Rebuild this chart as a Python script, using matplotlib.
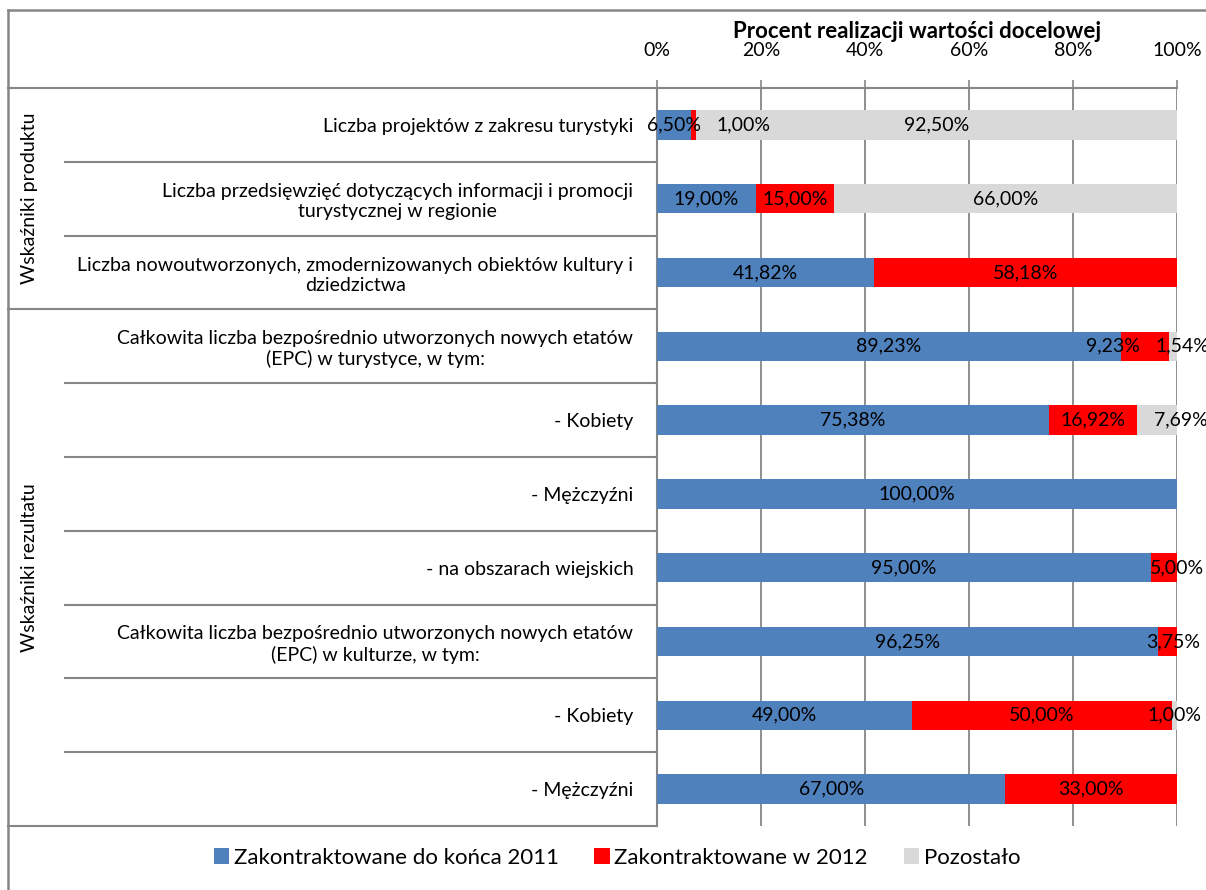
"""Procent realizacji wartości docelowej - stacked horizontal bars"""
import matplotlib.pyplot as plt
from matplotlib.lines import Line2D

plt.rcParams['font.family'] = ['Lato', 'DejaVu Sans']

categories = [
    'Liczba projektów z zakresu turystyki',
    'Liczba przedsięwzięć dotyczących informacji i promocji\nturystycznej w regionie',
    'Liczba nowoutworzonych, zmodernizowanych obiektów kultury i\ndziedzictwa',
    'Całkowita liczba bezpośrednio utworzonych nowych etatów\n(EPC) w turystyce, w tym:',
    '- Kobiety',
    '- Mężczyźni',
    '- na obszarach wiejskich',
    'Całkowita liczba bezpośrednio utworzonych nowych etatów\n(EPC) w kulturze, w tym:',
    '- Kobiety',
    '- Mężczyźni',
]
groups = ['Wskaźniki produktu', 'Wskaźniki rezultatu']
group_sizes = [3, 7]

do_2011 = [6.50, 19.00, 41.82, 89.23, 75.38, 100.00, 95.00, 96.25, 49.00, 67.00]
w_2012 = [1.00, 15.00, 58.18, 9.23, 16.92, 0.00, 5.00, 3.75, 50.00, 33.00]
pozostalo = [92.50, 66.00, 0.00, 1.54, 7.69, 0.00, 0.00, 0.00, 1.00, 0.00]

series_names = ['Zakontraktowane do końca 2011', 'Zakontraktowane w 2012', 'Pozostało']
colors = ['#4F81BD', '#FF0000', '#D9D9D9']

# hand-moved data labels in the original (series index, row) -> shift in %
label_shift = {(1, 0): 9.7, (1, 3): -6.2, (2, 3): 1.8, (2, 4): 4.6, (1, 6): 2.5, (1, 7): 1.1}

W, H = 1206, 890
fig = plt.figure(figsize=(W / 100, H / 100), dpi=100)
ax = fig.add_axes([657 / W, 1 - 826 / H, 520 / W, 738 / H])

grid_col = '#868686'
fs = 14
rows = list(range(len(categories)))
lefts = [0.0] * len(rows)
for si, vals in enumerate([do_2011, w_2012, pozostalo]):
    ax.barh(rows, vals, left=lefts, height=0.4, color=colors[si],
            label=series_names[si], zorder=3)
    for r, v in enumerate(vals):
        if v > 0:
            xc = lefts[r] + v / 2 + label_shift.get((si, r), 0)
            ax.text(xc, r, f'{v:.2f}%'.replace('.', ','), ha='center', va='center',
                    fontsize=fs, color='black', zorder=5)
    lefts = [a + b for a, b in zip(lefts, vals)]

ax.set_xlim(0, 100)
ax.set_ylim(len(rows) - 0.5, -0.5)
ax.set_xticks(range(0, 101, 20))
ax.set_xticklabels([f'{t}%' for t in range(0, 101, 20)])
ax.xaxis.tick_top()
ax.tick_params(axis='x', length=6, width=1.2, color=grid_col, pad=15, labelsize=fs)
ax.grid(axis='x', color=grid_col, linewidth=1.3, zorder=0)
ax.set_axisbelow(True)

ax.set_yticks(rows)
ax.set_yticklabels(categories, fontsize=fs)
ax.tick_params(axis='y', length=0, pad=17)
for t in ax.get_yticklabels():
    t.set_multialignment('center')

for s in ['bottom', 'right']:
    ax.spines[s].set_visible(False)
for s in ['top', 'left']:
    ax.spines[s].set_color(grid_col)
    ax.spines[s].set_linewidth(1.5)

fig.text((657 + 260) / W, 1 - 31 / H, 'Procent realizacji wartości docelowej',
         ha='center', va='center', fontsize=16, fontweight='bold')

# table-like separators in the label area
ytr = ax.get_yaxis_transform()
x_inner = (65 - 657) / 520
x_outer = (8 - 657) / 520
bounds = [-0.5]
for g in group_sizes:
    bounds.append(bounds[-1] + g)
for b in [r + 0.5 for r in rows[:-1]]:
    if b in bounds:
        continue
    ax.plot([x_inner, 0], [b, b], color=grid_col, lw=1.5, transform=ytr, clip_on=False)
for b in bounds:
    ax.plot([x_outer, 0], [b, b], color=grid_col, lw=1.5, transform=ytr, clip_on=False)

for gi, name in enumerate(groups):
    yc = (bounds[gi] + bounds[gi + 1]) / 2
    ax.text((30 - 657) / 520, yc, name, rotation=90, ha='center', va='center',
            fontsize=fs, transform=ytr)

# outer chart frame
fig.add_artist(Line2D([8 / W, 1], [1 - 10 / H, 1 - 10 / H], color=grid_col, lw=1.8))
fig.add_artist(Line2D([8 / W, 8 / W], [0, 1 - 10 / H], color=grid_col, lw=1.8))

fig.legend(loc='center', bbox_to_anchor=(617 / W, 1 - 858 / H), ncol=3, frameon=False,
           fontsize=16, handlelength=0.7, handleheight=0.7, handletextpad=0.2,
           columnspacing=1.6)

fig.savefig('out.png', dpi=100, facecolor='white')
